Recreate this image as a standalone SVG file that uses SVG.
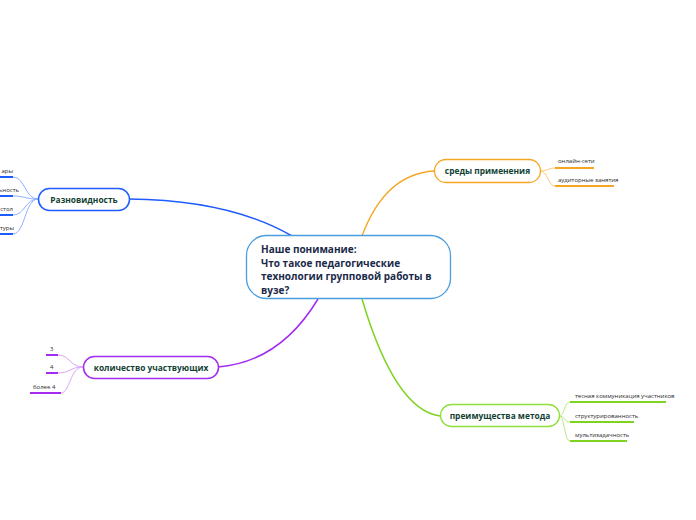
<svg xmlns="http://www.w3.org/2000/svg" width="696" height="520" viewBox="0 0 696 520">
<style>
.main{font-family:"Open Sans","Noto Sans",sans-serif;font-weight:bold;font-size:10px;fill:#1b2a4a}
.lbl{font-family:"Open Sans","Noto Sans",sans-serif;font-weight:bold;font-size:8.4px;fill:#123f33;text-anchor:middle}
.sub{font-family:"Open Sans","Noto Sans",sans-serif;font-size:6px;fill:#2a2a2a}
</style>
<rect width="696" height="520" fill="#fff"/>
<g id="connectors" fill="none">
<path d="M292 236 Q230 200 129 199" stroke="#1f5cff" stroke-width="1.5"/>
<path d="M362 236 Q385 174 434 171" stroke="#f5a623" stroke-width="1.3"/>
<path d="M362 299 Q395 410 440 416" stroke="#7ed321" stroke-width="1.5"/>
<path d="M318 299 Q280 362 218 367" stroke="#a32cf0" stroke-width="1.5"/>
<g stroke="#8fb0ff" stroke-width="1">
<path d="M38 199 C25 199 25 177 13 177"/>
<path d="M38 199 C25 199 25 196 13 196"/>
<path d="M38 199 C25 199 25 215 13 215"/>
<path d="M38 199 C25 199 25 234 13 234"/>
</g>
<g stroke="#fbc97a" stroke-width="1">
<path d="M540 171 C548 171 548 168 555 168"/>
<path d="M540 171 C548 171 548 186 555 186"/>
</g>
<g stroke="#b6ea7c" stroke-width="1">
<path d="M559 416 C565 416 564 402 570 402"/>
<path d="M559 416 C565 416 564 422 570 422"/>
<path d="M559 416 C565 416 564 441 570 441"/>
</g>
<g stroke="#d9a6f5" stroke-width="1">
<path d="M83 367 C70 367 70 355 58 355"/>
<path d="M83 367 C70 367 70 373 58 373"/>
<path d="M83 367 C70 367 70 393 61 393"/>
</g>
</g>
<g id="central">
<rect x="246.5" y="235.5" width="204" height="63" rx="20" fill="#fff" stroke="#4a9ee0" stroke-width="1.3"/>
<text class="main" x="261" y="253">Наше понимание:</text>
<text class="main" x="261" y="266.5">Что такое педагогические</text>
<text class="main" x="261" y="280">технологии групповой работы в</text>
<text class="main" x="261" y="293.5">вузе?</text>
</g>
<g id="raznovidnost">
<rect x="38.5" y="188.5" width="91" height="22" rx="11" fill="#fff" stroke="#1f5cff" stroke-width="1.5"/>
<text class="lbl" x="84" y="202.5">Разновидность</text>
<g stroke="#1f5cff" stroke-width="2"><path d="M0 177H13M0 196H13M0 215H13M0 234H13"/></g>
<text class="sub" x="13" y="173" text-anchor="end">ары</text>
<text class="sub" x="19" y="192" text-anchor="end">ьность</text>
<text class="sub" x="13" y="211" text-anchor="end">стол</text>
<text class="sub" x="14" y="230" text-anchor="end">туры</text>
</g>
<g id="sredy">
<rect x="434.5" y="159.5" width="106" height="23" rx="11.5" fill="#fff" stroke="#f5a623" stroke-width="1.3"/>
<text class="lbl" x="487.5" y="174">среды применения</text>
<g stroke="#f5a623" stroke-width="2"><path d="M555 168H594M555 186H614"/></g>
<text class="sub" x="558" y="163">онлайн-сети</text>
<text class="sub" x="558" y="182">аудиторные занятия</text>
</g>
<g id="preimushchestva">
<rect x="440.5" y="404.5" width="119" height="22" rx="11" fill="#fff" stroke="#8fe03a" stroke-width="1.3"/>
<text class="lbl" x="500" y="419">преимущества метода</text>
<g stroke="#7ed321" stroke-width="2"><path d="M570 402H666M570 422H634M570 441H627"/></g>
<text class="sub" x="575" y="398">тесная коммуникация участников</text>
<text class="sub" x="575" y="418">структурированность</text>
<text class="sub" x="575" y="437">мультизадачность</text>
</g>
<g id="kolichestvo">
<rect x="83.5" y="356.5" width="135" height="22" rx="11" fill="#fff" stroke="#a32cf0" stroke-width="1.5"/>
<text class="lbl" x="151" y="371">количество участвующих</text>
<g stroke="#a32cf0" stroke-width="2"><path d="M46 355H58M46 373H58M30 393H61"/></g>
<text class="sub" x="50" y="351">3</text>
<text class="sub" x="50" y="369">4</text>
<text class="sub" x="33" y="389">более 4</text>
</g>
</svg>
